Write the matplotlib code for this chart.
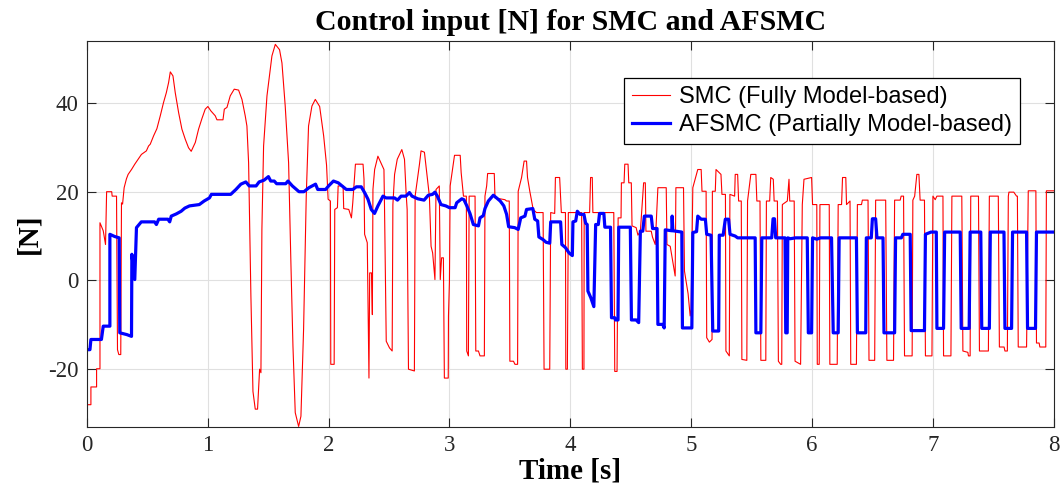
import matplotlib
matplotlib.use("Agg")
import matplotlib.pyplot as plt
import numpy as np

#SMC control input (fully model-based)
smc_t = [0, 0.033, 0.033, 0.08, 0.08, 0.108, 0.108, 0.135, 0.154, 0.163, 0.205, 0.209, 0.245, 0.253, 0.264, 0.28,
	0.286, 0.295, 0.308, 0.327, 0.341, 0.369, 0.396, 0.423, 0.451, 0.492, 0.51, 0.524, 0.552, 0.579, 0.607, 0.634,
	0.657, 0.676, 0.69, 0.712, 0.731, 0.759, 0.786, 0.814, 0.841, 0.863, 0.897, 0.924, 0.952, 0.979, 1.001, 1.026,
	1.062, 1.076, 1.126, 1.137, 1.159, 1.186, 1.219, 1.255, 1.283, 1.31, 1.324, 1.338, 1.357, 1.374, 1.393, 1.412,
	1.429, 1.44, 1.448, 1.462, 1.49, 1.531, 1.559, 1.594, 1.614, 1.641, 1.669, 1.688, 1.705, 1.724, 1.752, 1.771,
	1.793, 1.815, 1.834, 1.862, 1.89, 1.926, 1.959, 1.983, 1.996, 2.015, 2.018, 2.046, 2.051, 2.073, 2.079, 2.12,
	2.125, 2.167, 2.189, 2.2, 2.222, 2.285, 2.293, 2.298, 2.32, 2.334, 2.34, 2.355, 2.362, 2.367, 2.381, 2.408,
	2.458, 2.463, 2.477, 2.504, 2.526, 2.532, 2.546, 2.568, 2.606, 2.628, 2.642, 2.65, 2.661, 2.71, 2.716, 2.752,
	2.765, 2.793, 2.806, 2.834, 2.848, 2.861, 2.88, 2.889, 2.916, 2.924, 2.935, 2.95, 2.958, 2.99, 2.992, 3.0,
	3.006, 3.025, 3.042, 3.089, 3.097, 3.116, 3.14, 3.143, 3.157, 3.163, 3.212, 3.218, 3.24, 3.253, 3.289, 3.294,
	3.308, 3.316, 3.371, 3.377, 3.459, 3.473, 3.495, 3.5, 3.53, 3.542, 3.564, 3.569, 3.597, 3.618, 3.638, 3.646,
	3.665, 3.693, 3.72, 3.775, 3.783, 3.83, 3.838, 3.871, 3.877, 3.912, 3.926, 3.96, 3.963, 3.976, 3.984, 4.094,
	4.1, 4.113, 4.115, 4.16, 4.168, 4.182, 4.187, 4.36, 4.368, 4.387, 4.396, 4.42, 4.423, 4.445, 4.451, 4.478,
	4.484, 4.505, 4.511, 4.545, 4.56, 4.58, 4.607, 4.621, 4.626, 4.67, 4.68, 4.703, 4.725, 4.794, 4.8, 4.827,
	4.868, 4.874, 4.937, 4.945, 4.975, 4.992, 5.0, 5.014, 5.055, 5.083, 5.09, 5.124, 5.129, 5.151, 5.173, 5.176,
	5.2, 5.206, 5.247, 5.255, 5.284, 5.288, 5.316, 5.321, 5.36, 5.365, 5.385, 5.393, 5.415, 5.42, 5.461, 5.467,
	5.494, 5.536, 5.544, 5.57, 5.577, 5.618, 5.623, 5.65, 5.659, 5.68, 5.687, 5.714, 5.722, 5.741, 5.75, 5.755,
	5.796, 5.81, 5.816, 5.853, 5.86, 5.906, 5.92, 5.934, 5.997, 6.005, 6.04, 6.044, 6.06, 6.066, 6.143, 6.148,
	6.209, 6.217, 6.245, 6.253, 6.28, 6.286, 6.315, 6.321, 6.368, 6.376, 6.41, 6.417, 6.464, 6.472, 6.519, 6.527,
	6.61, 6.62, 6.675, 6.684, 6.73, 6.738, 6.758, 6.766, 6.829, 6.835, 6.85, 6.868, 6.885, 6.895, 6.931, 6.939,
	6.993, 7.001, 7.02, 7.034, 7.084, 7.089, 7.15, 7.158, 7.24, 7.249, 7.29, 7.295, 7.309, 7.314, 7.378, 7.386,
	7.46, 7.468, 7.542, 7.551, 7.59, 7.597, 7.617, 7.625, 7.63, 7.67, 7.693, 7.70, 7.707, 7.776, 7.79, 7.853,
	7.858, 7.88, 7.886, 7.935, 7.94, 8.0]
smc_u = [-28, -28, -24, -24, -19.9, -19.9, 13, 11.2, 8.1, 20, 20, 19, 19, -15.6, -16.7, -16.7,
	17.5, 17.2, 20.9, 22.9, 23.9, 25, 26.2, 27.3, 28.4, 29.2, 30.3, 30.7, 32.6, 34.2, 37.1, 40.1,
	42.3, 44.6, 47, 46.1, 42.3, 37.8, 34.1, 31.8, 29.9, 29.1, 31.1, 34.1, 36.5, 38.6, 39.2, 38.2,
	37.1, 36.2, 36.2, 38.6, 39.0, 41.6, 43.1, 42.9, 40.8, 37.1, 34.8, 26.5, -3.5, -25, -29, -29,
	-20, -20.8, 11.5, 30.3, 41.6, 50.6, 53.2, 52, 49, 39.3, 26.5, 4, -14.8, -29.8, -32.9, -30.6,
	-11, 19, 34.8, 39.3, 40.8, 39.2, 32.6, 26, 18.3, 17.9, -18.9, -18.9, 16, 16.4, 21.3, 21.3,
	16.2, 16, 14.1, 17.5, 26.2, 26.2, 22.8, 10.4, 8.5, -22, 1.7, 1.7, -7.7, 20.5, 25, 28,
	25, 16, -13.7, -15.2, -15.9, 17.1, 23.9, 27.3, 29.5, 27.3, 19.4, 16, -20, -20.4, 19, 26.2,
	29.2, 28.9, 25.8, 19, 7.7, 6.2, 0.2, 20.5, 21.3, 0.2, 5.1, 5.1, -22, -22, -8, -0.1,
	21.3, 25, 28.2, 28.2, 24.3, 19, 19, -15.9, -17, 19, 19, -15.9, -15.9, -17, -17, 19,
	21.3, 24.1, 24.1, 18.6, 18.2, 17.9, 17.9, -18.2, -18.2, -18.9, -18.9, 20.1, 23.2, 26.9, 26.9, 23.2,
	20.1, 16, 15.3, 15.3, -20, -20, 15.3, 15.1, 23.2, 23.2, 15.3, 15.3, -20, -20, 15.3, 15.3,
	-20, -20, 15.3, 15.3, 23.2, 23.2, 15.3, 15.3, -20.5, -20.5, 14.1, 14.1, 22, 22, 26.2, 26.2,
	22, 22, 12.3, 11.9, 10.2, 11.1, 22, 22, 11.1, 11.1, 9.8, 8.1, 20.9, 20.9, 8.1, 7.7,
	1.0, 20.9, 20.9, 2.1, -3.0, -8, -6.5, 20.9, 25, 25, 20.1, 20.1, -12.9, -13.9, -13.3, 20.1,
	20.1, 25, 23.9, 19.4, 19.4, -15.9, -17, 19.4, 19.0, 23.9, 23.9, 17.9, 17.9, -17.8, -18, 17.9,
	23.9, 23.9, 17.9, 17.9, -18, -18, 17.9, 17.9, 23.2, 22.8, 17.9, 17.9, -18.2, -18.9, -18.9, 17.1,
	17.9, 22.8, 17.9, 17.9, -18.2, -18.9, 17.1, 22.8, 23.2, 17.1, 17.1, -18.9, -18.9, 17.1, 17.1, -18.9,
	-18.9, 17.1, 17.1, 23.2, 23.2, 17.1, 17.9, -18.9, -18.9, 17.1, 17.1, 18.1, 18.1, -18, -18, 18.1,
	18.1, -18, -18, 18.1, 18.1, 19, 19, -17, -17, 18.1, 19, 23.9, 23.9, 18.1, 18.1, -17,
	-17, 19, 18.2, 19, 19, -17, -17, 19, 19, -15.9, -16.2, -17, -17, 19, 19, -15.9,
	-15.9, 19, 19, -15, -15, -15.9, -15.9, 19, 19.9, 19.9, 19, 19, -15, -15, 20.2, 20.2,
	-14.1, -14.1, -15, -15, 20.2, 20.2]

#AFSMC control input (partially model-based)
afsmc_t = [0, 0.025, 0.033, 0.12, 0.135, 0.19, 0.19, 0.23, 0.267, 0.272, 0.33, 0.369, 0.372, 0.396, 0.41, 0.45,
	0.56, 0.575, 0.594, 0.67, 0.685, 0.698, 0.74, 0.78, 0.81, 0.849, 0.93, 0.97, 1.014, 1.03, 1.19, 1.233,
	1.274, 1.315, 1.343, 1.40, 1.425, 1.466, 1.502, 1.521, 1.55, 1.57, 1.645, 1.664, 1.70, 1.755, 1.796, 1.837,
	1.892, 1.91, 1.975, 2.0, 2.04, 2.08, 2.12, 2.147, 2.2, 2.23, 2.27, 2.298, 2.326, 2.353, 2.38, 2.408,
	2.45, 2.475, 2.546, 2.57, 2.60, 2.64, 2.669, 2.69, 2.738, 2.79, 2.825, 2.86, 2.88, 2.9, 2.93, 2.97,
	3.0, 3.047, 3.06, 3.102, 3.12, 3.144, 3.17, 3.198, 3.24, 3.253, 3.28, 3.294, 3.322, 3.363, 3.39, 3.42,
	3.45, 3.473, 3.49, 3.54, 3.569, 3.59, 3.625, 3.638, 3.69, 3.706, 3.73, 3.74, 3.775, 3.80, 3.83, 3.838,
	3.92, 3.93, 3.96, 3.99, 4.017, 4.022, 4.045, 4.058, 4.08, 4.113, 4.127, 4.14, 4.146, 4.17, 4.195, 4.21,
	4.232, 4.242, 4.278, 4.286, 4.333, 4.341, 4.368, 4.374, 4.395, 4.401, 4.497, 4.506, 4.545, 4.566, 4.58, 4.60,
	4.613, 4.67, 4.681, 4.718, 4.725, 4.765, 4.777, 4.786, 4.84, 4.843, 4.849, 4.923, 4.928, 5.006, 5.014, 5.045,
	5.055, 5.083, 5.118, 5.129, 5.165, 5.179, 5.228, 5.233, 5.265, 5.283, 5.31, 5.322, 5.365, 5.385, 5.53, 5.536,
	5.577, 5.585, 5.667, 5.678, 5.69, 5.70, 5.777, 5.783, 5.795, 5.80, 5.82, 5.865, 5.961, 5.97, 5.997, 6.005,
	6.04, 6.071, 6.162, 6.176, 6.217, 6.225, 6.368, 6.376, 6.445, 6.45, 6.491, 6.50, 6.527, 6.538, 6.588, 6.596,
	6.684, 6.692, 6.74, 6.752, 6.813, 6.821, 6.931, 6.939, 6.985, 7.029, 7.034, 7.089, 7.098, 7.227, 7.235, 7.301,
	7.309, 7.397, 7.405, 7.468, 7.476, 7.589, 7.597, 7.652, 7.66, 7.776, 7.784, 7.85, 7.858, 8.0]
afsmc_u = [-15.6, -15.6, -13.3, -13.3, -10.3, -10.3, 10.4, 9.9, 9.6, -11.8, -12.2, -12.6, 5.9, 0.2, 11.9, 13.2,
	13.2, 12.6, 13.8, 13.8, 13.2, 14.5, 15.0, 15.6, 16.3, 16.8, 17.1, 17.9, 18.6, 19.4, 19.4, 20.5,
	21.7, 22.2, 21.3, 21.3, 22.2, 22.6, 23.4, 22.4, 22.4, 21.8, 21.8, 22.4, 21.3, 20.0, 20.0, 20.9,
	21.7, 20.5, 20.5, 21.3, 22.4, 22.0, 21.1, 20.5, 20.5, 21.1, 21.1, 19.8, 18.3, 16.0, 15.1, 16.8,
	19.0, 18.6, 18.6, 18.1, 19.0, 19.0, 19.8, 19.0, 18.4, 18.1, 19.2, 19.4, 19.9, 19.0, 17.1, 16.8,
	16.4, 16.4, 17.5, 18.4, 18.2, 16.8, 15.1, 12.6, 12.3, 14.1, 14.6, 16.2, 17.9, 19.2, 18.6, 17.9,
	16.8, 14.9, 12.1, 11.9, 11.5, 14.1, 14.5, 16.0, 16.2, 13.8, 13.4, 9.8, 9.2, 8.6, 8.4, 13.2,
	13.2, 8.1, 7.4, 6.2, 5.6, 13.2, 13.4, 15.6, 14.9, 14.9, 12.9, 12.6, -2.4, -3.9, -5.9, 12.6,
	12.6, 15.1, 15.1, 12.0, 12.0, -8.4, -8.4, -8.9, -8.9, 12.0, 12.0, -8.9, -8.9, -9.5, 11.1, 11.1,
	14.5, 14.5, 11.7, 11.7, -9.9, -9.9, -10.7, 11.4, 11.2, 14.5, 11.2, 10.9, -10.7, -10.7, 10.8, 11.0,
	14.5, 13.8, 13.8, 10.4, 10.2, -11.4, -11.4, 10.2, 10.2, 13.8, 13.8, 10.4, 10.0, 9.6, 9.6, -11.8,
	-11.8, 9.6, 9.6, 13.9, 13.9, 9.6, 9.6, -11.8, -11.8, 9.6, 9.4, 9.6, 9.6, -11.8, -11.8, 9.6,
	9.3, 9.6, 9.6, -11.8, -11.8, 9.6, 9.6, -11.8, -11.8, 9.6, 9.6, 13.9, 13.9, 9.6, 9.6, -11.8,
	-11.8, 9.6, 9.6, 10.4, 10.4, -11.3, -11.3, 10.4, 10.9, 10.9, -10.8, -10.8, 10.9, 10.9, -10.8, -10.8,
	10.9, 10.9, -10.8, -10.8, 10.9, 10.9, -10.8, -10.8, 10.9, 10.9, -10.8, -10.8, 10.9, 10.9]

yticks = [-20, 0, 20, 40]

plt.rcParams['axes.unicode_minus'] = False
plt.rcParams['font.family'] = ['Liberation Serif', 'DejaVu Serif']

fig = plt.figure(figsize=(10.6, 5.04), dpi=100)
ax = fig.add_axes([0.082, 0.153, 0.912, 0.766])

ax.plot(smc_t, smc_u, color='#ff0000', lw=0.8, label='SMC (Fully Model-based)')
ax.plot(afsmc_t, afsmc_u, color='#0000ff', lw=2.3, label='AFSMC (Partially Model-based)')

ax.set_xlim(0, 8)
ax.set_ylim(-33, 54)
ax.set_yticks(yticks)
ax.set_xticks(np.arange(0, 9, 1))
ax.grid(True, color='#e0e0e0', lw=0.8)
ax.set_axisbelow(True)
ax.tick_params(direction='in', length=6.5, width=0.8, top=True, right=True, labelsize=16.5, pad=6, colors='#262626')
for s in ax.spines.values():
	s.set_color('#262626')
	s.set_linewidth(0.8)

ax.set_title('Control input [N] for SMC and AFSMC', fontsize=21.5, fontweight='bold', pad=8)
ax.set_xlabel('Time [s]', fontsize=21, fontweight='bold', labelpad=1)
ax.set_ylabel('[N]', fontsize=21, fontweight='bold', labelpad=4)

leg = ax.legend(loc='upper right', bbox_to_anchor=(0.965, 0.904), borderaxespad=0, fancybox=False,
	framealpha=1, edgecolor='black', handlelength=1.6, handletextpad=0.35, borderpad=0.35, labelspacing=0.25,
	prop={'family': 'Liberation Sans', 'size': 17})
leg.get_frame().set_linewidth(0.9)

plt.savefig('out.png', dpi=100)
